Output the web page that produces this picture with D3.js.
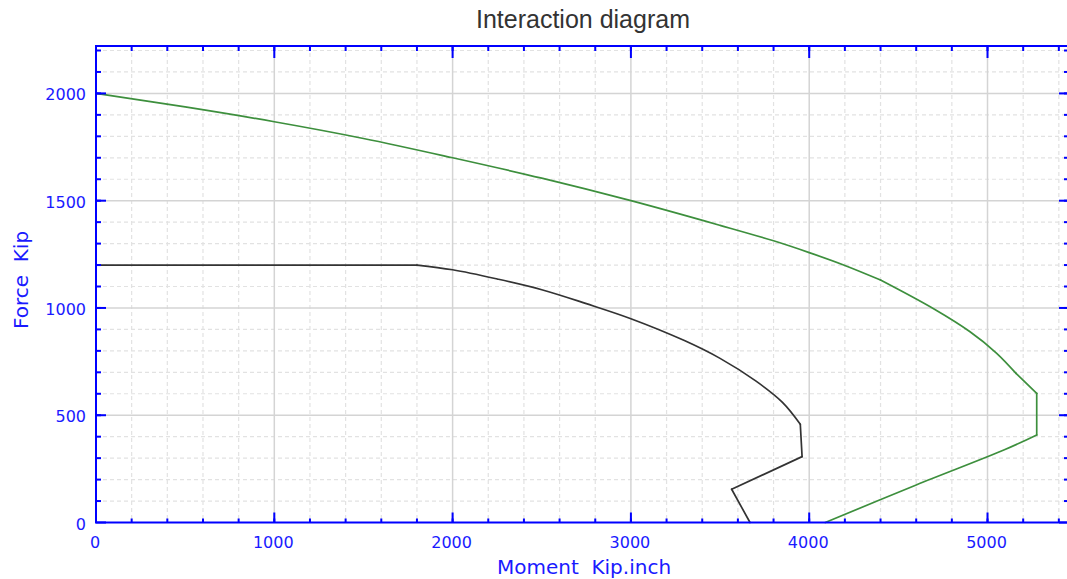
<!DOCTYPE html>
<html>
<head>
<meta charset="utf-8">
<script src="https://cdn.jsdelivr.net/npm/d3@7"></script>
<style>
  html, body { margin: 0; padding: 0; background: #fff; overflow: hidden; }
  #chart { width: 1067px; height: 579px; }
</style>
</head>
<body>
<div id="chart"></div>
<script>
// Outer curve (green): moment (kip.inch) / force (kip)
var outerMoment = [0, 500, 1000, 1500, 2000, 2500, 3000, 3500, 3800, 4000, 4200, 4400, 4700, 4900, 5050, 5160, 5276, 5276, 5098, 4600, 4090];
var outerForce  = [2000, 1937, 1868, 1790, 1700, 1605, 1500, 1385, 1313, 1258, 1198, 1130, 995, 890, 790, 695, 602, 408, 340, 175, 0];
// index ranges drawn as smooth curves (the rest are straight segments)
var outerSmooth = [[0, 11], [11, 15], [17, 20]];

// Inner curve (black)
var innerMoment = [0, 1800, 2000, 2250, 2500, 2750, 3000, 3300, 3500, 3700, 3850, 3950, 3960, 3565, 3668];
var innerForce  = [1200, 1200, 1178, 1135, 1085, 1020, 950, 848, 765, 660, 560, 458, 307, 155, 0];
var innerSmooth = [[1, 11]];

var xTicks = [0, 1000, 2000, 3000, 4000, 5000];
var yTicks = [0, 500, 1000, 1500, 2000];

(function () {
  'use strict';

  var COL = {
    axis:   '#0000ff',
    label:  '#1a1aff',
    title:  '#333333',
    major:  '#d4d4d4',
    minor:  '#e2e2e2',
    outer:  '#3d8f3d',
    inner:  '#333333'
  };

  var W  = 1067, H = 579;
  var mg = { top: 46, right: -2, bottom: 56.5, left: 96 };
  var w  = W - mg.left - mg.right;
  var h  = H - mg.top - mg.bottom;

  var svg = d3.select('#chart').append('svg')
    .attr('width', W).attr('height', H)
    .style('font-family', '"DejaVu Sans", Verdana, sans-serif');

  var g = svg.append('g')
    .attr('transform', 'translate(' + mg.left + ',' + mg.top + ')');

  var x = d3.scaleLinear().domain([0, 5457]).range([0, w]);
  var y = d3.scaleLinear().domain([0, 2221]).range([h, 0]);

  var xMinor = d3.range(200, 5457, 200).filter(function (v) { return v % 1000 !== 0; });
  var yMinor = d3.range(100, 2221, 100).filter(function (v) { return v % 500 !== 0; });
  var xMinorAll = d3.range(200, 5457, 200);
  var yMinorAll = d3.range(100, 2221, 100);

  // Minor grid (dashed)
  g.selectAll('line.gx').data(xMinor).join('line')
    .attr('x1', x).attr('x2', x).attr('y1', 0).attr('y2', h)
    .attr('stroke', COL.minor).attr('stroke-width', 1.2)
    .attr('stroke-dasharray', '4,3');
  g.selectAll('line.gy').data(yMinor).join('line')
    .attr('y1', y).attr('y2', y).attr('x1', 0).attr('x2', w)
    .attr('stroke', COL.minor).attr('stroke-width', 1.2)
    .attr('stroke-dasharray', '4,3');

  // Major grid (solid)
  g.selectAll('line.Gx').data(xTicks.slice(1)).join('line')
    .attr('x1', x).attr('x2', x).attr('y1', 0).attr('y2', h)
    .attr('stroke', COL.major).attr('stroke-width', 1.5);
  g.selectAll('line.Gy').data(yTicks.slice(1)).join('line')
    .attr('y1', y).attr('y2', y).attr('x1', 0).attr('x2', w)
    .attr('stroke', COL.major).attr('stroke-width', 1.5);

  // Curves: smooth pieces through the read points, straight elsewhere
  var smooth = d3.line()
    .x(function (d) { return x(d[0]); })
    .y(function (d) { return y(d[1]); })
    .curve(d3.curveCatmullRom.alpha(0.5));
  var straight = d3.line()
    .x(function (d) { return x(d[0]); })
    .y(function (d) { return y(d[1]); });

  function drawCurve(ms, fs, pieces, colour) {
    var pts = d3.zip(ms, fs);
    var isSmooth = pts.map(function () { return false; });
    pieces.forEach(function (p) {
      g.append('path')
        .datum(pts.slice(p[0], p[1] + 1))
        .attr('fill', 'none').attr('stroke', colour)
        .attr('stroke-width', 1.7).attr('stroke-linecap', 'round')
        .attr('d', smooth);
      for (var i = p[0]; i < p[1]; i++) isSmooth[i] = true;
    });
    for (var i = 0; i < pts.length - 1; i++) {
      if (isSmooth[i]) continue;
      g.append('path')
        .datum([pts[i], pts[i + 1]])
        .attr('fill', 'none').attr('stroke', colour)
        .attr('stroke-width', 1.7).attr('stroke-linecap', 'round')
        .attr('d', straight);
    }
  }
  drawCurve(outerMoment, outerForce, outerSmooth, COL.outer);
  drawCurve(innerMoment, innerForce, innerSmooth, COL.inner);

  // Axis frame ticks
  function ticks(vals, len, side) {
    vals.forEach(function (v) {
      var l = g.append('line').attr('stroke', COL.axis).attr('stroke-width', 2);
      if (side === 'bottom') l.attr('x1', x(v)).attr('x2', x(v)).attr('y1', h).attr('y2', h - len);
      if (side === 'top')    l.attr('x1', x(v)).attr('x2', x(v)).attr('y1', 0).attr('y2', len);
      if (side === 'left')   l.attr('y1', y(v)).attr('y2', y(v)).attr('x1', 0).attr('x2', len);
      if (side === 'right')  l.attr('y1', y(v)).attr('y2', y(v)).attr('x1', w).attr('x2', w - len);
    });
  }
  ticks(xMinorAll, 4, 'bottom');
  ticks(xTicks, 10, 'bottom');
  ticks(xMinorAll, 5, 'top');
  ticks(xTicks, 12, 'top');
  ticks(yMinorAll, 5, 'left');
  ticks(yTicks, 10, 'left');
  ticks(yMinorAll, 5, 'right');
  ticks(yTicks, 10, 'right');

  // Frame
  g.append('rect')
    .attr('x', 0).attr('y', 0).attr('width', w).attr('height', h)
    .attr('fill', 'none').attr('stroke', COL.axis).attr('stroke-width', 2);

  // Tick labels
  g.selectAll('text.xl').data(xTicks).join('text')
    .attr('x', function (v) { return x(v) - 1; })
    .attr('y', h + 25.5)
    .attr('text-anchor', 'middle')
    .attr('font-size', 16).attr('fill', COL.label)
    .text(function (v) { return v; });

  g.selectAll('text.yl').data(yTicks).join('text')
    .attr('x', -10)
    .attr('y', function (v) { return y(v) + 7; })
    .attr('text-anchor', 'end')
    .attr('font-size', 16).attr('fill', COL.label)
    .text(function (v) { return v; });

  // Axis titles
  svg.append('text')
    .attr('x', 584).attr('y', 574)
    .attr('text-anchor', 'middle')
    .attr('font-size', 20).attr('fill', COL.label)
    .style('white-space', 'pre')
    .text('Moment  Kip.inch');

  svg.append('text')
    .attr('transform', 'translate(28,280) rotate(-90)')
    .attr('text-anchor', 'middle')
    .attr('font-size', 20).attr('fill', COL.label)
    .style('white-space', 'pre')
    .text('Force  Kip');

  // Title
  svg.append('text')
    .attr('x', 583).attr('y', 28)
    .attr('text-anchor', 'middle')
    .attr('font-family', '"Liberation Sans", Arial, sans-serif')
    .attr('font-size', 25).attr('fill', COL.title)
    .text('Interaction diagram');
}());
</script>
</body>
</html>
